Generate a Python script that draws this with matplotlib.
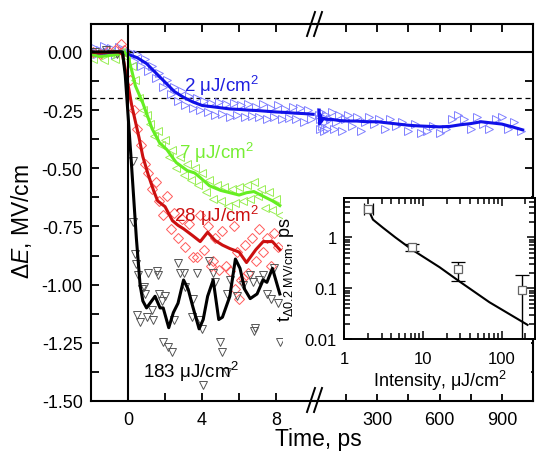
import matplotlib.pyplot as plt
import matplotlib.ticker as mticker
from matplotlib.patches import Rectangle
from matplotlib.lines import Line2D

plt.rcParams['font.family'] = ['Liberation Sans', 'DejaVu Sans']
plt.rcParams['mathtext.fontset'] = 'custom'
plt.rcParams['mathtext.rm'] = 'Liberation Sans'
plt.rcParams['mathtext.it'] = 'Liberation Sans:italic'
plt.rcParams['axes.unicode_minus'] = False

# ---- data ----
# 2 uJ/cm2, early times (ps) and long times (ps)
t_blue = [-2, -1.5, -1, -0.5, 0, 0.5, 1, 1.5, 2, 2.5, 3, 3.5, 4, 4.5, 5, 5.5, 6, 6.5,
          7, 7.5, 8, 8.5, 9, 9.5, 10]
e_blue = [-0.01, -0.005, -0.008, -0.003, -0.01, -0.025, -0.05, -0.09, -0.13, -0.17,
          -0.195, -0.215, -0.23, -0.235, -0.24, -0.245, -0.247, -0.25, -0.252, -0.255,
          -0.258, -0.26, -0.263, -0.265, -0.268]
tm_blue = [-1.9, -1.7, -1.5, -1.3, -1.1, -0.9, -0.7, -0.5, -0.3, -0.1, 0.1, 0.3, 0.5, 0.7,
           0.9, 1.1, 1.3, 1.5, 1.7, 1.9, 2.1, 2.3, 2.5, 2.7, 2.9, 3.1, 3.3, 3.5, 3.7, 3.9,
           4.1, 4.3, 4.5, 4.7, 4.9, 5.1, 5.3, 5.5, 5.7, 5.9, 6.1, 6.3, 6.5, 6.7, 6.9, 7.1,
           7.3, 7.5, 7.7, 7.9, 8.1, 8.3, 8.5, 8.7, 8.9, 9.1, 9.3, 9.5, 9.7, 9.9]
em_blue = [0.02, -0.01, 0.01, 0.025, 0.0, 0.015, -0.015, 0.02, 0.01, -0.005, 0.0, -0.04,
           -0.01, -0.06, -0.03, -0.08, -0.06, -0.11, -0.09, -0.15, -0.12, -0.18, -0.15,
           -0.21, -0.17, -0.23, -0.19, -0.24, -0.20, -0.25, -0.21, -0.26, -0.22, -0.27,
           -0.215, -0.265, -0.225, -0.28, -0.22, -0.27, -0.23, -0.28, -0.225, -0.275,
           -0.235, -0.28, -0.225, -0.29, -0.24, -0.28, -0.23, -0.29, -0.245, -0.285,
           -0.235, -0.29, -0.24, -0.30, -0.25, -0.29]
t_blue_long = [20, 22, 25, 30, 40, 60, 80, 120, 160, 200, 250, 300, 350, 400, 450, 500,
               550, 600, 650, 700, 750, 800, 850, 900, 950, 1000]
e_blue_long = [-0.25, -0.31, -0.27, -0.30, -0.285, -0.29, -0.29, -0.295, -0.297, -0.297,
               -0.30, -0.30, -0.305, -0.31, -0.315, -0.318, -0.32, -0.322, -0.32, -0.313,
               -0.308, -0.30, -0.305, -0.31, -0.322, -0.335]
tm_blue_long = [20, 23, 26, 30, 35, 40, 45, 50, 55, 60, 70, 80, 90, 100, 115, 130, 145,
                160, 180, 200, 220, 240, 260, 285, 310, 335, 360, 390, 420, 450, 480, 510,
                540, 570, 600, 630, 660, 690, 720, 750, 780, 810, 840, 870, 900, 930, 960,
                990]
em_blue_long = [-0.27, -0.33, -0.29, -0.26, -0.32, -0.28, -0.34, -0.30, -0.27, -0.33,
                -0.29, -0.26, -0.33, -0.30, -0.27, -0.34, -0.29, -0.27, -0.32, -0.28,
                -0.34, -0.30, -0.28, -0.31, -0.29, -0.33, -0.29, -0.32, -0.30, -0.34,
                -0.31, -0.35, -0.34, -0.32, -0.35, -0.33, -0.29, -0.27, -0.29, -0.33,
                -0.28, -0.31, -0.33, -0.29, -0.28, -0.33, -0.30, -0.34]

# 7 uJ/cm2
t_green = [-2, -1.5, -1, -0.5, -0.2, 0, 0.2, 0.4, 0.8, 1.3, 1.7, 2.1, 2.6, 3.2, 3.6, 3.9,
           4.4, 5.0, 5.5, 6.0, 6.4, 6.8, 7.3, 7.8, 8.2]
e_green = [-0.01, -0.02, -0.015, -0.01, 0.0, -0.02, -0.08, -0.146, -0.22, -0.33, -0.39,
           -0.42, -0.475, -0.51, -0.52, -0.54, -0.575, -0.595, -0.605, -0.615, -0.605,
           -0.60, -0.62, -0.64, -0.66]
tm_green = [-1.9, -1.6, -1.3, -1.0, -0.7, -0.4, -0.1, 0.2, 0.4, 0.6, 0.8, 1.0, 1.2, 1.4,
            1.6, 1.8, 2.0, 2.2, 2.4, 2.6, 2.8, 3.0, 3.2, 3.4, 3.6, 3.8, 4.0, 4.2, 4.4, 4.6,
            4.8, 5.0, 5.2, 5.4, 5.6, 5.8, 6.0, 6.2, 6.4, 6.6, 6.8, 7.0, 7.2, 7.4, 7.6, 7.8,
            8.0, 8.2]
em_green = [-0.03, -0.01, -0.035, -0.005, -0.03, 0.0, -0.02, -0.06, -0.12, -0.20, -0.25,
            -0.27, -0.31, -0.36, -0.34, -0.40, -0.38, -0.45, -0.42, -0.50, -0.45, -0.53,
            -0.48, -0.55, -0.50, -0.57, -0.52, -0.60, -0.55, -0.63, -0.57, -0.64, -0.58,
            -0.66, -0.59, -0.65, -0.58, -0.64, -0.57, -0.63, -0.56, -0.62, -0.59, -0.67,
            -0.60, -0.68, -0.63, -0.70]

# 28 uJ/cm2
t_red = [-2, -1.5, -1, -0.5, -0.3, 0, 0.2, 0.4, 0.6, 0.8, 1.1, 1.4, 1.6, 2.0, 2.4, 2.7,
         3.0, 3.5, 3.9, 4.3, 4.7, 5.1, 5.5, 6.0, 6.4, 6.9, 7.3, 7.8, 8.2]
e_red = [0.0, -0.005, 0.0, 0.0, -0.01, -0.14, -0.23, -0.30, -0.37, -0.45, -0.53, -0.60,
         -0.64, -0.665, -0.725, -0.745, -0.76, -0.79, -0.815, -0.775, -0.81, -0.83,
         -0.845, -0.86, -0.905, -0.85, -0.815, -0.815, -0.85]
tm_red = [-1.9, -1.5, -1.1, -0.7, -0.4, -0.2, 0.1, 0.3, 0.5, 0.7, 0.9, 1.1, 1.3, 1.5, 1.7,
          1.9, 2.1, 2.3, 2.5, 2.7, 2.9, 3.1, 3.3, 3.5, 3.7, 3.9, 4.1, 4.3, 4.5, 4.6, 4.7,
          4.9, 5.1, 5.3, 5.5, 5.7, 5.8, 5.9, 6.0, 6.1, 6.2, 6.3, 6.5, 6.7, 6.9, 7.1, 7.3,
          7.5, 7.7, 7.9, 8.1]
em_red = [0.0, -0.01, 0.005, 0.01, 0.035, 0.01, -0.12, -0.25, -0.33, -0.40, -0.48, -0.52,
          -0.59, -0.56, -0.64, -0.70, -0.62, -0.76, -0.69, -0.80, -0.72, -0.84, -0.74,
          -0.88, -0.88, -0.70, -0.85, -0.75, -0.92, -0.90, -0.80, -0.935, -0.77, -0.92,
          -0.94, -0.75, -1.02, -0.86, -1.06, -0.98, -0.97, -0.83, -0.95, -0.80, -0.90,
          -0.76, -0.86, -0.80, -0.92, -0.78, -0.84]

# 183 uJ/cm2
t_black = [-2, -1, -0.3, -0.15, 0.15, 0.45, 0.65, 0.8, 1.0, 1.46, 1.73, 1.9, 2.2, 2.45,
           2.7, 3.0, 3.25, 3.5, 3.84, 4.06, 4.3, 4.6, 4.9, 5.1, 5.5, 5.8, 6.05, 6.3, 6.6,
           6.97, 7.3, 7.5, 7.8, 8.2]
e_black = [0, 0, 0, -0.10, -0.44, -0.80, -1.0, -1.07, -1.10, -1.05, -1.10, -1.10, -1.185,
           -1.12, -1.08, -0.98, -1.02, -1.095, -1.19, -1.15, -1.05, -0.98, -1.15, -1.14,
           -1.05, -0.89, -0.93, -1.02, -1.06, -1.04, -0.98, -0.99, -0.93, -1.04]
tm_black = [-1.8, -1.2, -0.6, 0.27, 0.27, 0.35, 0.45, 0.5, 0.55, 0.65, 0.75, 0.85, 0.92,
            1.0, 1.1, 1.3, 1.35, 1.55, 1.6, 1.7, 1.85, 1.9, 2.0, 2.17, 2.4, 2.5, 2.7, 2.8,
            3.0, 3.1, 3.45, 3.5, 3.7, 3.9, 4.0, 4.05, 4.4, 4.6, 4.7, 4.97, 5.07, 5.35,
            5.35, 5.5, 5.9, 6.2, 6.6, 6.75, 6.8, 6.86, 7.1, 7.3, 7.5, 7.7, 7.9, 8.1, 8.2]
em_black = [0.0, 0.01, -0.01, -0.47, -0.73, -0.87, -0.91, -1.13, -0.96, -1.16, -1.02,
            -1.01, -1.04, -1.14, -0.95, -1.11, -1.15, -0.94, -0.96, -1.04, -1.07, -1.245,
            -1.05, -1.27, -1.29, -1.15, -0.905, -0.95, -0.95, -1.01, -1.14, -1.06, -0.95,
            -1.15, -1.19, -1.43, -0.90, -0.95, -0.99, -1.245, -1.29, -1.04, -1.375, -0.98,
            -1.05, -1.0, -0.96, -0.99, -1.2, -1.185, -0.98, -0.96, -1.04, -1.06, -0.93,
            -1.08, -1.245]

# inset: time to reach 0.2 MV/cm vs intensity
intensity = [2, 7.2, 28, 183]
t_cross = [3.7, 0.64, 0.236, 0.091]
t_err_lo = [0.2, 0.11, 0.10, 0.09]
t_err_hi = [0.3, 0.09, 0.10, 0.09]
fit_i = [2.1, 2.33, 3.1, 4.5, 7.25, 16.3, 29, 70, 213]
fit_t = [3.2, 2.25, 1.57, 1.0, 0.58, 0.26, 0.137, 0.053, 0.019]

W, H = 537, 460
fig = plt.figure(figsize=(W / 100, H / 100), dpi=100)


def box(x0, y0, x1, y1):
    return [x0 / W, 1 - y1 / H, (x1 - x0) / W, (y1 - y0) / H]


axL = fig.add_axes(box(91, 25, 315, 402))
axR = fig.add_axes(box(315, 25, 533, 402))

ms = 6
mk = dict(ls='none', mfc='none', ms=ms, mew=0.7)
axL.plot(tm_blue, em_blue, marker='>', mec='#8080ff', **mk)
axL.plot(tm_green, em_green, marker='<', mec='#99ee55', **mk)
axL.plot(tm_red, em_red, marker='D', mec='#ff5a5a', **dict(mk, ms=5))
axL.plot(tm_black, em_black, marker='v', mec='#555555', **mk)
axL.plot(t_blue, e_blue, color='#1010e8', lw=2.2)
axL.plot(t_green, e_green, color='#66ee22', lw=2.2)
axL.plot(t_red, e_red, color='#cc1010', lw=2.2)
axL.plot(t_black, e_black, color='black', lw=2.2)

axR.plot(tm_blue_long, em_blue_long, marker='>', mec='#8080ff', **mk)
axR.plot(t_blue_long, e_blue_long, color='#1010e8', lw=2.2)

for ax in (axL, axR):
    ax.axhline(0, color='black', lw=1.5, zorder=1)
    ax.axhline(-0.2, color='black', lw=0.9, ls=(0, (4, 3)), zorder=1)
    ax.set_ylim(-1.5, 0.12)
    ax.yaxis.set_major_locator(mticker.MultipleLocator(0.25))
    ax.yaxis.set_minor_locator(mticker.MultipleLocator(0.125))
    for s in ax.spines.values():
        s.set_linewidth(1.5)
    ax.tick_params(which='both', direction='in', top=True, width=1.3, labelsize=13, pad=7)
    ax.tick_params(which='major', length=6)
    ax.tick_params(which='minor', length=6)

axL.axvline(0, color='black', lw=1.5)
axL.set_xlim(-2, 10.1)
axL.set_xticks([0, 4, 8])
axL.xaxis.set_minor_locator(mticker.FixedLocator([2, 6]))
axL.yaxis.set_major_formatter(mticker.FormatStrFormatter('%.2f'))
axL.spines['right'].set_visible(False)
axL.tick_params(axis='y', right=False, pad=6)
axL.tick_params(axis='y', which='minor', right=False)

axR.set_xlim(0, 1050)
axR.set_xticks([300, 600, 900])
axR.xaxis.set_minor_locator(mticker.FixedLocator([150, 450, 750, 1050]))
axR.spines['left'].set_visible(False)
axR.tick_params(axis='y', which='both', left=False, right=True, labelleft=False)

# series labels
tk = dict(fontsize=13.5, va='baseline')
axL.text(3.03, -0.168, r'2 μJ/cm$^2$', color='#2020e0', **tk)
axL.text(2.76, -0.457, r'7 μJ/cm$^2$', color='#77ee33', **tk)
axL.text(2.5, -0.728, r'28 μJ/cm$^2$', color='#cc1010', **tk)
axL.text(0.82, -1.397, r'183 μJ/cm$^2$', color='black', **tk)

fig.text(22 / W, 1 - 222 / H, r'Δ$\it{E}$, MV/cm', rotation=90, fontsize=16.5,
         ha='center', va='center')
fig.text(318 / W, 1 - 440 / H, 'Time, ps', fontsize=16.5, ha='center', va='center')

# axis break marks
for xc, yc in ((315, 25), (315, 401)):
    for dx in (-4, 3):
        fig.add_artist(Line2D([(xc + dx - 4) / W, (xc + dx + 4) / W],
                              [1 - (yc + 12) / H, 1 - (yc - 12) / H],
                              color='black', lw=1.4))

# white backing for the inset
fig.add_artist(Rectangle((283 / W, 1 - 395 / H), (531 - 283) / W, (395 - 192) / H,
                         transform=fig.transFigure, facecolor='white',
                         edgecolor='none', zorder=1))

axI = fig.add_axes(box(344, 199, 535, 340))
axI.set_zorder(2)
axI.set_xscale('log')
axI.set_yscale('log')
axI.set_xlim(1, 265)
axI.set_ylim(0.01, 6)
axI.plot(fit_i, fit_t, color='black', lw=1.5)
axI.errorbar(intensity[1:], t_cross[1:], yerr=[t_err_lo[1:], t_err_hi[1:]], fmt='s',
             ms=6, mfc='white', mec='#666666', mew=0.9, ecolor='black', elinewidth=1,
             capsize=5, capthick=1)
axI.errorbar(intensity[:1], t_cross[:1], xerr=[[0.2], [0.3]], fmt='s', ms=6,
             mfc='white', mec='#666666', mew=0.9, ecolor='black', elinewidth=1,
             capsize=4, capthick=1)
axI.set_xticks([1, 10, 100])
axI.set_yticks([0.01, 0.1, 1])
axI.xaxis.set_major_formatter(mticker.FixedFormatter(['1', '10', '100']))
axI.yaxis.set_major_formatter(mticker.FixedFormatter(['0.01', '0.1', '1']))
axI.xaxis.set_minor_formatter(mticker.NullFormatter())
axI.yaxis.set_minor_formatter(mticker.NullFormatter())
for s in axI.spines.values():
    s.set_linewidth(1.4)
axI.tick_params(which='both', direction='in', top=True, right=True, width=1.1,
                labelsize=12)
axI.tick_params(which='major', length=6)
axI.tick_params(which='minor', length=4)
axI.tick_params(axis='x', pad=9)
axI.tick_params(axis='y', pad=5)
axI.set_xlabel(r'Intensity, μJ/cm$^2$', fontsize=13, labelpad=1)
axI.set_ylabel(r't$_{\Delta0.2\ \mathrm{MV/cm}}$, ps', fontsize=13, labelpad=6)

fig.savefig('out.png', dpi=100)
